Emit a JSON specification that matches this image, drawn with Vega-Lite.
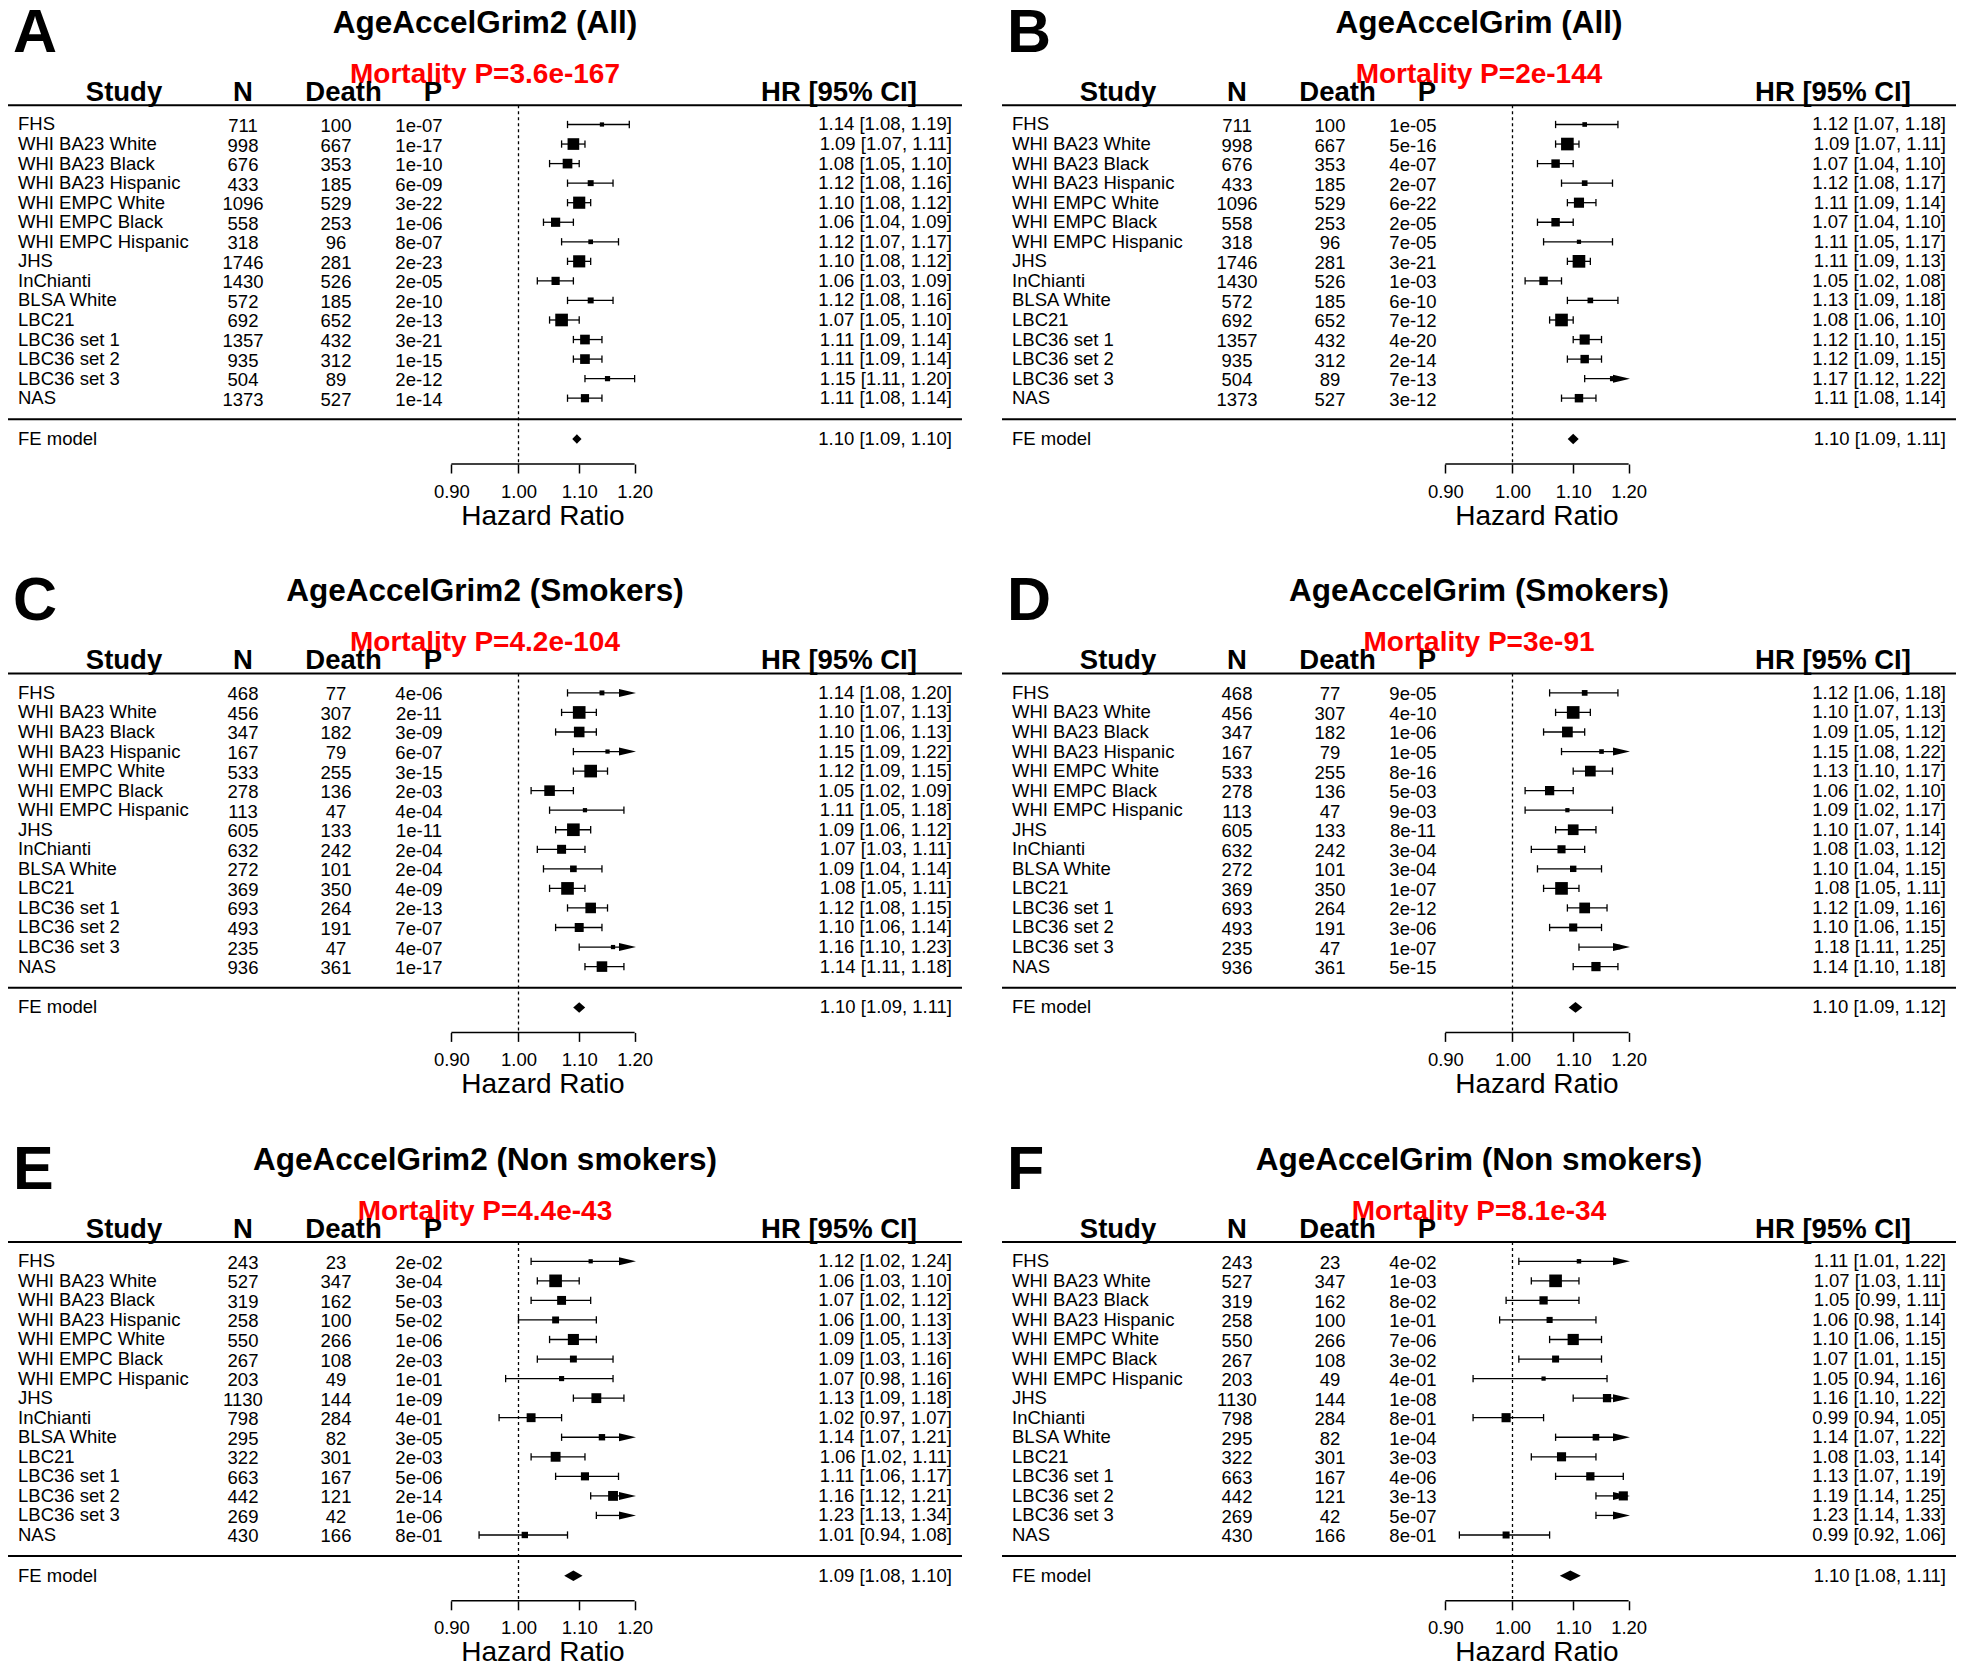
{
"$schema":"https://vega.github.io/schema/vega-lite/v6.json",
"padding":0,
"config":{"view":{"stroke":null},"font":"Liberation Sans","text":{"font":"Liberation Sans","color":"black"},"axis":{"labelFont":"Liberation Sans","labelColor":"black","tickColor":"black"}},
"data":{"values":[
{"panel":"A","kind":"p","letter":"A","title":"AgeAccelGrim2 (All)","mort":"Mortality P=3.6e-167"},
{"panel":"B","kind":"p","letter":"B","title":"AgeAccelGrim (All)","mort":"Mortality P=2e-144"},
{"panel":"C","kind":"p","letter":"C","title":"AgeAccelGrim2 (Smokers)","mort":"Mortality P=4.2e-104"},
{"panel":"D","kind":"p","letter":"D","title":"AgeAccelGrim (Smokers)","mort":"Mortality P=3e-91"},
{"panel":"E","kind":"p","letter":"E","title":"AgeAccelGrim2 (Non smokers)","mort":"Mortality P=4.4e-43"},
{"panel":"F","kind":"p","letter":"F","title":"AgeAccelGrim (Non smokers)","mort":"Mortality P=8.1e-34"},
{"panel":"A","kind":"fe","study":"FE model","hr":1.096,"lo":1.0905,"hi":1.1045,"txt":"1.10 [1.09, 1.10]"},
{"panel":"B","kind":"fe","study":"FE model","hr":1.1,"lo":1.091,"hi":1.108,"txt":"1.10 [1.09, 1.11]"},
{"panel":"C","kind":"fe","study":"FE model","hr":1.1,"lo":1.09,"hi":1.109,"txt":"1.10 [1.09, 1.11]"},
{"panel":"D","kind":"fe","study":"FE model","hr":1.104,"lo":1.092,"hi":1.116,"txt":"1.10 [1.09, 1.12]"},
{"panel":"E","kind":"fe","study":"FE model","hr":1.09,"lo":1.076,"hi":1.104,"txt":"1.09 [1.08, 1.10]"},
{"panel":"F","kind":"fe","study":"FE model","hr":1.095,"lo":1.079,"hi":1.111,"txt":"1.10 [1.08, 1.11]"},
{"panel":"A","kind":"s","r":1,"study":"FHS","n":"711","d":"100","p":"1e-07","hr":1.14,"lo":1.08,"hi":1.19,"txt":"1.14 [1.08, 1.19]","w":9.1},
{"panel":"A","kind":"s","r":2,"study":"WHI BA23 White","n":"998","d":"667","p":"1e-17","hr":1.09,"lo":1.07,"hi":1.11,"txt":"1.09 [1.07, 1.11]","w":24},
{"panel":"A","kind":"s","r":3,"study":"WHI BA23 Black","n":"676","d":"353","p":"1e-10","hr":1.08,"lo":1.05,"hi":1.10,"txt":"1.08 [1.05, 1.10]","w":20},
{"panel":"A","kind":"s","r":4,"study":"WHI BA23 Hispanic","n":"433","d":"185","p":"6e-09","hr":1.12,"lo":1.08,"hi":1.16,"txt":"1.12 [1.08, 1.16]","w":12.5},
{"panel":"A","kind":"s","r":5,"study":"WHI EMPC White","n":"1096","d":"529","p":"3e-22","hr":1.10,"lo":1.08,"hi":1.12,"txt":"1.10 [1.08, 1.12]","w":25},
{"panel":"A","kind":"s","r":6,"study":"WHI EMPC Black","n":"558","d":"253","p":"1e-06","hr":1.06,"lo":1.04,"hi":1.09,"txt":"1.06 [1.04, 1.09]","w":19},
{"panel":"A","kind":"s","r":7,"study":"WHI EMPC Hispanic","n":"318","d":"96","p":"8e-07","hr":1.12,"lo":1.07,"hi":1.17,"txt":"1.12 [1.07, 1.17]","w":10},
{"panel":"A","kind":"s","r":8,"study":"JHS","n":"1746","d":"281","p":"2e-23","hr":1.10,"lo":1.08,"hi":1.12,"txt":"1.10 [1.08, 1.12]","w":25},
{"panel":"A","kind":"s","r":9,"study":"InChianti","n":"1430","d":"526","p":"2e-05","hr":1.06,"lo":1.03,"hi":1.09,"txt":"1.06 [1.03, 1.09]","w":17},
{"panel":"A","kind":"s","r":10,"study":"BLSA White","n":"572","d":"185","p":"2e-10","hr":1.12,"lo":1.08,"hi":1.16,"txt":"1.12 [1.08, 1.16]","w":12.5},
{"panel":"A","kind":"s","r":11,"study":"LBC21","n":"692","d":"652","p":"2e-13","hr":1.07,"lo":1.05,"hi":1.10,"txt":"1.07 [1.05, 1.10]","w":26},
{"panel":"A","kind":"s","r":12,"study":"LBC36 set 1","n":"1357","d":"432","p":"3e-21","hr":1.11,"lo":1.09,"hi":1.14,"txt":"1.11 [1.09, 1.14]","w":20},
{"panel":"A","kind":"s","r":13,"study":"LBC36 set 2","n":"935","d":"312","p":"1e-15","hr":1.11,"lo":1.09,"hi":1.14,"txt":"1.11 [1.09, 1.14]","w":20},
{"panel":"A","kind":"s","r":14,"study":"LBC36 set 3","n":"504","d":"89","p":"2e-12","hr":1.15,"lo":1.11,"hi":1.20,"txt":"1.15 [1.11, 1.20]","w":11},
{"panel":"A","kind":"s","r":15,"study":"NAS","n":"1373","d":"527","p":"1e-14","hr":1.11,"lo":1.08,"hi":1.14,"txt":"1.11 [1.08, 1.14]","w":17},
{"panel":"B","kind":"s","r":1,"study":"FHS","n":"711","d":"100","p":"1e-05","hr":1.12,"lo":1.07,"hi":1.18,"txt":"1.12 [1.07, 1.18]","w":9.1},
{"panel":"B","kind":"s","r":2,"study":"WHI BA23 White","n":"998","d":"667","p":"5e-16","hr":1.09,"lo":1.07,"hi":1.11,"txt":"1.09 [1.07, 1.11]","w":25},
{"panel":"B","kind":"s","r":3,"study":"WHI BA23 Black","n":"676","d":"353","p":"4e-07","hr":1.07,"lo":1.04,"hi":1.10,"txt":"1.07 [1.04, 1.10]","w":16.7},
{"panel":"B","kind":"s","r":4,"study":"WHI BA23 Hispanic","n":"433","d":"185","p":"2e-07","hr":1.12,"lo":1.08,"hi":1.17,"txt":"1.12 [1.08, 1.17]","w":11.1},
{"panel":"B","kind":"s","r":5,"study":"WHI EMPC White","n":"1096","d":"529","p":"6e-22","hr":1.11,"lo":1.09,"hi":1.14,"txt":"1.11 [1.09, 1.14]","w":20},
{"panel":"B","kind":"s","r":6,"study":"WHI EMPC Black","n":"558","d":"253","p":"2e-05","hr":1.07,"lo":1.04,"hi":1.10,"txt":"1.07 [1.04, 1.10]","w":16.7},
{"panel":"B","kind":"s","r":7,"study":"WHI EMPC Hispanic","n":"318","d":"96","p":"7e-05","hr":1.11,"lo":1.05,"hi":1.17,"txt":"1.11 [1.05, 1.17]","w":8.3},
{"panel":"B","kind":"s","r":8,"study":"JHS","n":"1746","d":"281","p":"3e-21","hr":1.11,"lo":1.09,"hi":1.13,"txt":"1.11 [1.09, 1.13]","w":25},
{"panel":"B","kind":"s","r":9,"study":"InChianti","n":"1430","d":"526","p":"1e-03","hr":1.05,"lo":1.02,"hi":1.08,"txt":"1.05 [1.02, 1.08]","w":16.7},
{"panel":"B","kind":"s","r":10,"study":"BLSA White","n":"572","d":"185","p":"6e-10","hr":1.13,"lo":1.09,"hi":1.18,"txt":"1.13 [1.09, 1.18]","w":11.1},
{"panel":"B","kind":"s","r":11,"study":"LBC21","n":"692","d":"652","p":"7e-12","hr":1.08,"lo":1.06,"hi":1.10,"txt":"1.08 [1.06, 1.10]","w":25},
{"panel":"B","kind":"s","r":12,"study":"LBC36 set 1","n":"1357","d":"432","p":"4e-20","hr":1.12,"lo":1.10,"hi":1.15,"txt":"1.12 [1.10, 1.15]","w":20},
{"panel":"B","kind":"s","r":13,"study":"LBC36 set 2","n":"935","d":"312","p":"2e-14","hr":1.12,"lo":1.09,"hi":1.15,"txt":"1.12 [1.09, 1.15]","w":16.7},
{"panel":"B","kind":"s","r":14,"study":"LBC36 set 3","n":"504","d":"89","p":"7e-13","hr":1.17,"lo":1.12,"hi":1.22,"txt":"1.17 [1.12, 1.22]","w":10},
{"panel":"B","kind":"s","r":15,"study":"NAS","n":"1373","d":"527","p":"3e-12","hr":1.11,"lo":1.08,"hi":1.14,"txt":"1.11 [1.08, 1.14]","w":16.7},
{"panel":"C","kind":"s","r":1,"study":"FHS","n":"468","d":"77","p":"4e-06","hr":1.14,"lo":1.08,"hi":1.203,"txt":"1.14 [1.08, 1.20]","w":8.3},
{"panel":"C","kind":"s","r":2,"study":"WHI BA23 White","n":"456","d":"307","p":"2e-11","hr":1.10,"lo":1.07,"hi":1.13,"txt":"1.10 [1.07, 1.13]","w":16.7},
{"panel":"C","kind":"s","r":3,"study":"WHI BA23 Black","n":"347","d":"182","p":"3e-09","hr":1.10,"lo":1.06,"hi":1.13,"txt":"1.10 [1.06, 1.13]","w":14.3},
{"panel":"C","kind":"s","r":4,"study":"WHI BA23 Hispanic","n":"167","d":"79","p":"6e-07","hr":1.15,"lo":1.09,"hi":1.22,"txt":"1.15 [1.09, 1.22]","w":7.7},
{"panel":"C","kind":"s","r":5,"study":"WHI EMPC White","n":"533","d":"255","p":"3e-15","hr":1.12,"lo":1.09,"hi":1.15,"txt":"1.12 [1.09, 1.15]","w":16.7},
{"panel":"C","kind":"s","r":6,"study":"WHI EMPC Black","n":"278","d":"136","p":"2e-03","hr":1.05,"lo":1.02,"hi":1.09,"txt":"1.05 [1.02, 1.09]","w":14.3},
{"panel":"C","kind":"s","r":7,"study":"WHI EMPC Hispanic","n":"113","d":"47","p":"4e-04","hr":1.11,"lo":1.05,"hi":1.18,"txt":"1.11 [1.05, 1.18]","w":7.7},
{"panel":"C","kind":"s","r":8,"study":"JHS","n":"605","d":"133","p":"1e-11","hr":1.09,"lo":1.06,"hi":1.12,"txt":"1.09 [1.06, 1.12]","w":16.7},
{"panel":"C","kind":"s","r":9,"study":"InChianti","n":"632","d":"242","p":"2e-04","hr":1.07,"lo":1.03,"hi":1.11,"txt":"1.07 [1.03, 1.11]","w":12.5},
{"panel":"C","kind":"s","r":10,"study":"BLSA White","n":"272","d":"101","p":"2e-04","hr":1.09,"lo":1.04,"hi":1.14,"txt":"1.09 [1.04, 1.14]","w":10},
{"panel":"C","kind":"s","r":11,"study":"LBC21","n":"369","d":"350","p":"4e-09","hr":1.08,"lo":1.05,"hi":1.11,"txt":"1.08 [1.05, 1.11]","w":16.7},
{"panel":"C","kind":"s","r":12,"study":"LBC36 set 1","n":"693","d":"264","p":"2e-13","hr":1.12,"lo":1.08,"hi":1.15,"txt":"1.12 [1.08, 1.15]","w":14.3},
{"panel":"C","kind":"s","r":13,"study":"LBC36 set 2","n":"493","d":"191","p":"7e-07","hr":1.10,"lo":1.06,"hi":1.14,"txt":"1.10 [1.06, 1.14]","w":12.5},
{"panel":"C","kind":"s","r":14,"study":"LBC36 set 3","n":"235","d":"47","p":"4e-07","hr":1.16,"lo":1.10,"hi":1.23,"txt":"1.16 [1.10, 1.23]","w":7.7},
{"panel":"C","kind":"s","r":15,"study":"NAS","n":"936","d":"361","p":"1e-17","hr":1.14,"lo":1.11,"hi":1.18,"txt":"1.14 [1.11, 1.18]","w":14.3},
{"panel":"D","kind":"s","r":1,"study":"FHS","n":"468","d":"77","p":"9e-05","hr":1.12,"lo":1.06,"hi":1.18,"txt":"1.12 [1.06, 1.18]","w":8.3},
{"panel":"D","kind":"s","r":2,"study":"WHI BA23 White","n":"456","d":"307","p":"4e-10","hr":1.10,"lo":1.07,"hi":1.13,"txt":"1.10 [1.07, 1.13]","w":16.7},
{"panel":"D","kind":"s","r":3,"study":"WHI BA23 Black","n":"347","d":"182","p":"1e-06","hr":1.09,"lo":1.05,"hi":1.12,"txt":"1.09 [1.05, 1.12]","w":14.3},
{"panel":"D","kind":"s","r":4,"study":"WHI BA23 Hispanic","n":"167","d":"79","p":"1e-05","hr":1.15,"lo":1.08,"hi":1.22,"txt":"1.15 [1.08, 1.22]","w":7.1},
{"panel":"D","kind":"s","r":5,"study":"WHI EMPC White","n":"533","d":"255","p":"8e-16","hr":1.13,"lo":1.10,"hi":1.17,"txt":"1.13 [1.10, 1.17]","w":14.3},
{"panel":"D","kind":"s","r":6,"study":"WHI EMPC Black","n":"278","d":"136","p":"5e-03","hr":1.06,"lo":1.02,"hi":1.10,"txt":"1.06 [1.02, 1.10]","w":12.5},
{"panel":"D","kind":"s","r":7,"study":"WHI EMPC Hispanic","n":"113","d":"47","p":"9e-03","hr":1.09,"lo":1.02,"hi":1.17,"txt":"1.09 [1.02, 1.17]","w":6.7},
{"panel":"D","kind":"s","r":8,"study":"JHS","n":"605","d":"133","p":"8e-11","hr":1.10,"lo":1.07,"hi":1.14,"txt":"1.10 [1.07, 1.14]","w":14.3},
{"panel":"D","kind":"s","r":9,"study":"InChianti","n":"632","d":"242","p":"3e-04","hr":1.08,"lo":1.03,"hi":1.12,"txt":"1.08 [1.03, 1.12]","w":11.1},
{"panel":"D","kind":"s","r":10,"study":"BLSA White","n":"272","d":"101","p":"3e-04","hr":1.10,"lo":1.04,"hi":1.15,"txt":"1.10 [1.04, 1.15]","w":9.1},
{"panel":"D","kind":"s","r":11,"study":"LBC21","n":"369","d":"350","p":"1e-07","hr":1.08,"lo":1.05,"hi":1.11,"txt":"1.08 [1.05, 1.11]","w":16.7},
{"panel":"D","kind":"s","r":12,"study":"LBC36 set 1","n":"693","d":"264","p":"2e-12","hr":1.12,"lo":1.09,"hi":1.16,"txt":"1.12 [1.09, 1.16]","w":14.3},
{"panel":"D","kind":"s","r":13,"study":"LBC36 set 2","n":"493","d":"191","p":"3e-06","hr":1.10,"lo":1.06,"hi":1.15,"txt":"1.10 [1.06, 1.15]","w":11.1},
{"panel":"D","kind":"s","r":14,"study":"LBC36 set 3","n":"235","d":"47","p":"1e-07","hr":1.18,"lo":1.11,"hi":1.25,"txt":"1.18 [1.11, 1.25]","w":7.1},
{"panel":"D","kind":"s","r":15,"study":"NAS","n":"936","d":"361","p":"5e-15","hr":1.14,"lo":1.10,"hi":1.18,"txt":"1.14 [1.10, 1.18]","w":12.5},
{"panel":"E","kind":"s","r":1,"study":"FHS","n":"243","d":"23","p":"2e-02","hr":1.12,"lo":1.02,"hi":1.24,"txt":"1.12 [1.02, 1.24]","w":4.55},
{"panel":"E","kind":"s","r":2,"study":"WHI BA23 White","n":"527","d":"347","p":"3e-04","hr":1.06,"lo":1.03,"hi":1.10,"txt":"1.06 [1.03, 1.10]","w":14.3},
{"panel":"E","kind":"s","r":3,"study":"WHI BA23 Black","n":"319","d":"162","p":"5e-03","hr":1.07,"lo":1.02,"hi":1.12,"txt":"1.07 [1.02, 1.12]","w":10},
{"panel":"E","kind":"s","r":4,"study":"WHI BA23 Hispanic","n":"258","d":"100","p":"5e-02","hr":1.06,"lo":1.00,"hi":1.13,"txt":"1.06 [1.00, 1.13]","w":7.7},
{"panel":"E","kind":"s","r":5,"study":"WHI EMPC White","n":"550","d":"266","p":"1e-06","hr":1.09,"lo":1.05,"hi":1.13,"txt":"1.09 [1.05, 1.13]","w":12.5},
{"panel":"E","kind":"s","r":6,"study":"WHI EMPC Black","n":"267","d":"108","p":"2e-03","hr":1.09,"lo":1.03,"hi":1.16,"txt":"1.09 [1.03, 1.16]","w":7.7},
{"panel":"E","kind":"s","r":7,"study":"WHI EMPC Hispanic","n":"203","d":"49","p":"1e-01","hr":1.07,"lo":0.98,"hi":1.16,"txt":"1.07 [0.98, 1.16]","w":5.6},
{"panel":"E","kind":"s","r":8,"study":"JHS","n":"1130","d":"144","p":"1e-09","hr":1.13,"lo":1.09,"hi":1.18,"txt":"1.13 [1.09, 1.18]","w":11.1},
{"panel":"E","kind":"s","r":9,"study":"InChianti","n":"798","d":"284","p":"4e-01","hr":1.02,"lo":0.97,"hi":1.07,"txt":"1.02 [0.97, 1.07]","w":10},
{"panel":"E","kind":"s","r":10,"study":"BLSA White","n":"295","d":"82","p":"3e-05","hr":1.14,"lo":1.07,"hi":1.21,"txt":"1.14 [1.07, 1.21]","w":7.1},
{"panel":"E","kind":"s","r":11,"study":"LBC21","n":"322","d":"301","p":"2e-03","hr":1.06,"lo":1.02,"hi":1.11,"txt":"1.06 [1.02, 1.11]","w":11.1},
{"panel":"E","kind":"s","r":12,"study":"LBC36 set 1","n":"663","d":"167","p":"5e-06","hr":1.11,"lo":1.06,"hi":1.17,"txt":"1.11 [1.06, 1.17]","w":9.1},
{"panel":"E","kind":"s","r":13,"study":"LBC36 set 2","n":"442","d":"121","p":"2e-14","hr":1.16,"lo":1.12,"hi":1.21,"txt":"1.16 [1.12, 1.21]","w":11.1},
{"panel":"E","kind":"s","r":14,"study":"LBC36 set 3","n":"269","d":"42","p":"1e-06","hr":1.23,"lo":1.13,"hi":1.34,"txt":"1.23 [1.13, 1.34]","w":4.8},
{"panel":"E","kind":"s","r":15,"study":"NAS","n":"430","d":"166","p":"8e-01","hr":1.01,"lo":0.94,"hi":1.08,"txt":"1.01 [0.94, 1.08]","w":7.1},
{"panel":"F","kind":"s","r":1,"study":"FHS","n":"243","d":"23","p":"4e-02","hr":1.11,"lo":1.01,"hi":1.22,"txt":"1.11 [1.01, 1.22]","w":4.76},
{"panel":"F","kind":"s","r":2,"study":"WHI BA23 White","n":"527","d":"347","p":"1e-03","hr":1.07,"lo":1.03,"hi":1.11,"txt":"1.07 [1.03, 1.11]","w":12.5},
{"panel":"F","kind":"s","r":3,"study":"WHI BA23 Black","n":"319","d":"162","p":"8e-02","hr":1.05,"lo":0.99,"hi":1.11,"txt":"1.05 [0.99, 1.11]","w":8.3},
{"panel":"F","kind":"s","r":4,"study":"WHI BA23 Hispanic","n":"258","d":"100","p":"1e-01","hr":1.06,"lo":0.98,"hi":1.14,"txt":"1.06 [0.98, 1.14]","w":6.25},
{"panel":"F","kind":"s","r":5,"study":"WHI EMPC White","n":"550","d":"266","p":"7e-06","hr":1.10,"lo":1.06,"hi":1.15,"txt":"1.10 [1.06, 1.15]","w":11.1},
{"panel":"F","kind":"s","r":6,"study":"WHI EMPC Black","n":"267","d":"108","p":"3e-02","hr":1.07,"lo":1.01,"hi":1.15,"txt":"1.07 [1.01, 1.15]","w":7.1},
{"panel":"F","kind":"s","r":7,"study":"WHI EMPC Hispanic","n":"203","d":"49","p":"4e-01","hr":1.05,"lo":0.94,"hi":1.16,"txt":"1.05 [0.94, 1.16]","w":4.55},
{"panel":"F","kind":"s","r":8,"study":"JHS","n":"1130","d":"144","p":"1e-08","hr":1.16,"lo":1.10,"hi":1.22,"txt":"1.16 [1.10, 1.22]","w":8.3},
{"panel":"F","kind":"s","r":9,"study":"InChianti","n":"798","d":"284","p":"8e-01","hr":0.99,"lo":0.94,"hi":1.05,"txt":"0.99 [0.94, 1.05]","w":9.1},
{"panel":"F","kind":"s","r":10,"study":"BLSA White","n":"295","d":"82","p":"1e-04","hr":1.14,"lo":1.07,"hi":1.22,"txt":"1.14 [1.07, 1.22]","w":6.7},
{"panel":"F","kind":"s","r":11,"study":"LBC21","n":"322","d":"301","p":"3e-03","hr":1.08,"lo":1.03,"hi":1.14,"txt":"1.08 [1.03, 1.14]","w":9.1},
{"panel":"F","kind":"s","r":12,"study":"LBC36 set 1","n":"663","d":"167","p":"4e-06","hr":1.13,"lo":1.07,"hi":1.19,"txt":"1.13 [1.07, 1.19]","w":8.3},
{"panel":"F","kind":"s","r":13,"study":"LBC36 set 2","n":"442","d":"121","p":"3e-13","hr":1.19,"lo":1.14,"hi":1.25,"txt":"1.19 [1.14, 1.25]","w":9.1},
{"panel":"F","kind":"s","r":14,"study":"LBC36 set 3","n":"269","d":"42","p":"5e-07","hr":1.23,"lo":1.14,"hi":1.33,"txt":"1.23 [1.14, 1.33]","w":5.3},
{"panel":"F","kind":"s","r":15,"study":"NAS","n":"430","d":"166","p":"8e-01","hr":0.99,"lo":0.92,"hi":1.06,"txt":"0.99 [0.92, 1.06]","w":7.1}
]},
"transform":[{"lookup":"panel","from":{"data":{"values":[
 {"panel":"A","clock":"AgeAccelGrim2","subset":"All"},
 {"panel":"B","clock":"AgeAccelGrim","subset":"All"},
 {"panel":"C","clock":"AgeAccelGrim2","subset":"Smokers"},
 {"panel":"D","clock":"AgeAccelGrim","subset":"Smokers"},
 {"panel":"E","clock":"AgeAccelGrim2","subset":"Non smokers"},
 {"panel":"F","clock":"AgeAccelGrim","subset":"Non smokers"}]},"key":"panel","fields":["clock","subset"]}}],
"facet":{
 "row":{"field":"subset","type":"nominal","sort":["All","Smokers","Non smokers"],"header":null},
 "column":{"field":"clock","type":"nominal","sort":["AgeAccelGrim2","AgeAccelGrim"],"header":null}},
"spacing":{"row":32.4,"column":23},
"resolve":{"scale":{"size":"independent","x":"independent"},"axis":{"x":"independent"}},
"spec":{
"width":971,"height":536,
"layer":[
{"transform":[{"filter":"datum.kind=='s' && datum.hr<=1.2"}],"mark":{"type":"point","shape":"square","filled":true,"color":"black","opacity":1,"strokeWidth":0},
 "encoding":{"x":{"field":"hr","type":"quantitative","scale":{"type":"log","domain":[0.44309,2.03479],"nice":false},"axis":{"values":[0.9,1,1.1,1.2],"format":".2f","domain":false,"grid":false,"ticks":true,"tickSize":9,"tickWidth":1.5,"labelFontSize":18.5,"labelPadding":9,"labelFlush":false,"labelOverlap":false,"title":null,"offset":-72}},
  "y":{"field":"r","type":"quantitative","scale":{"domain":[-5.368,22.049],"nice":false,"zero":false,"reverse":true},"axis":null},
  "size":{"field":"w","type":"quantitative","scale":{"type":"pow","exponent":2,"zero":false,"range":[18,160]},"legend":null}}},
{"transform":[{"filter":"datum.kind=='p'"}],"mark":{"type":"rule","strokeWidth":2,"color":"black"},
 "encoding":{"x":{"datum":0.4487,"type":"quantitative"},"x2":{"datum":2.00621},
 "y":{"datum":0.013,"type":"quantitative"}}},
{"transform":[{"filter":"datum.kind=='p'"}],"mark":{"type":"rule","strokeWidth":2,"color":"black"},
 "encoding":{"x":{"datum":0.4487,"type":"quantitative"},"x2":{"datum":2.00621},"y":{"datum":16.079,"type":"quantitative"}}},
{"transform":[{"filter":"datum.kind=='p'"}],"mark":{"type":"rule","strokeWidth":1.3,"color":"black","strokeDash":[3,3]},
 "encoding":{"x":{"datum":1,"type":"quantitative"},"y":{"datum":0.013,"type":"quantitative"},"y2":{"datum":18.366}}},
{"transform":[{"filter":"datum.kind=='p'"}],"mark":{"type":"rule","strokeWidth":1.5,"color":"black"},
 "encoding":{"x":{"datum":0.9,"type":"quantitative"},"x2":{"datum":1.2},"y":{"datum":18.366,"type":"quantitative"}}},
{"transform":[{"filter":"datum.kind=='s' && datum.hi<=1.2"}],"mark":{"type":"rule","strokeWidth":1.3,"color":"black"},
 "encoding":{"x":{"field":"lo","type":"quantitative"},"x2":{"field":"hi"},"y":{"field":"r","type":"quantitative"}}},
{"transform":[{"filter":"datum.kind=='s' && datum.hi>1.2"}],"mark":{"type":"rule","strokeWidth":1.3,"color":"black"},
 "encoding":{"x":{"field":"lo","type":"quantitative"},"x2":{"datum":1.18663},"y":{"field":"r","type":"quantitative"}}},
{"transform":[{"filter":"datum.kind=='s'"}],"mark":{"type":"tick","orient":"vertical","size":7.3,"thickness":1.3,"color":"black","opacity":1},
 "encoding":{"x":{"field":"lo","type":"quantitative"},"y":{"field":"r","type":"quantitative"}}},
{"transform":[{"filter":"datum.kind=='s' && datum.hi<=1.2"}],"mark":{"type":"tick","orient":"vertical","size":7.3,"thickness":1.3,"color":"black","opacity":1},
 "encoding":{"x":{"field":"hi","type":"quantitative"},"y":{"field":"r","type":"quantitative"}}},
{"transform":[{"filter":"datum.kind=='s' && datum.hi>1.2"}],"mark":{"type":"point","shape":"M-1,-0.47L1,0L-1,0.47Z","size":289,"filled":true,"color":"black","opacity":1,"strokeWidth":0},
 "encoding":{"x":{"datum":1.18663,"type":"quantitative"},"y":{"field":"r","type":"quantitative"}}},
{"transform":[{"filter":"datum.kind=='fe'"}],"mark":{"type":"point","size":441,"filled":true,"color":"black","opacity":1,"strokeWidth":0},
 "encoding":{"x":{"field":"hr","type":"quantitative"},"y":{"datum":17.087,"type":"quantitative"},
  "shape":{"field":"panel","type":"nominal","legend":null,"scale":{"domain":["A","B","C","D","E","F"],"range":["M-0.443,0L0,-0.45L0.443,0L0,0.45Z","M-0.524,0L0,-0.5L0.524,0L0,0.5Z","M-0.571,0L0,-0.5L0.571,0L0,0.5Z","M-0.652,0L0,-0.52L0.652,0L0,0.52Z","M-0.876,0L0,-0.5L0.876,0L0,0.5Z","M-1,0L0,-0.5L1,0L0,0.5Z"]}}}},
{"transform":[{"filter":"datum.kind=='p'"}],"mark":{"type":"text","fontSize":28,"fontWeight":"bold","color":"#FF0000","align":"center","baseline":"alphabetic"},
 "encoding":{"x":{"datum":0.94877,"type":"quantitative"},"y":{"datum":-1.123,"type":"quantitative"},"text":{"field":"mort"}}},
{"transform":[{"filter":"datum.kind=='p'"}],"mark":{"type":"text","fontSize":31.5,"fontWeight":"bold","align":"center","baseline":"alphabetic"},
 "encoding":{"x":{"datum":0.94877,"type":"quantitative"},"y":{"datum":-3.68,"type":"quantitative"},"text":{"field":"title"}}},
{"transform":[{"filter":"datum.kind=='p'"}],"mark":{"type":"text","fontSize":61,"fontWeight":"bold","align":"left","baseline":"alphabetic"},
 "encoding":{"x":{"datum":0.45224,"type":"quantitative"},"y":{"datum":-2.708,"type":"quantitative"},"text":{"field":"letter"}}},
{"transform":[{"filter":"datum.kind=='p'"}],"mark":{"type":"text","fontSize":27.5,"fontWeight":"bold","align":"center","baseline":"alphabetic","text":"Study"},
 "encoding":{"x":{"datum":0.53831,"type":"quantitative"},"y":{"datum":-0.217,"type":"quantitative"}}},
{"transform":[{"filter":"datum.kind=='p'"}],"mark":{"type":"text","fontSize":27.5,"fontWeight":"bold","align":"center","baseline":"alphabetic","text":"N"},
 "encoding":{"x":{"datum":0.6489,"type":"quantitative"},"y":{"datum":-0.217,"type":"quantitative"}}},
{"transform":[{"filter":"datum.kind=='p'"}],"mark":{"type":"text","fontSize":27.5,"fontWeight":"bold","align":"center","baseline":"alphabetic","text":"Death"},
 "encoding":{"x":{"datum":0.75978,"type":"quantitative"},"y":{"datum":-0.217,"type":"quantitative"}}},
{"transform":[{"filter":"datum.kind=='p'"}],"mark":{"type":"text","fontSize":27.5,"fontWeight":"bold","align":"center","baseline":"alphabetic","text":"P"},
 "encoding":{"x":{"datum":0.8744,"type":"quantitative"},"y":{"datum":-0.217,"type":"quantitative"}}},
{"transform":[{"filter":"datum.kind=='p'"}],"mark":{"type":"text","fontSize":27.5,"fontWeight":"bold","align":"center","baseline":"alphabetic","text":"HR [95% CI]"},
 "encoding":{"x":{"datum":1.65388,"type":"quantitative"},"y":{"datum":-0.217,"type":"quantitative"}}},
{"transform":[{"filter":"datum.kind=='s'"}],"mark":{"type":"text","fontSize":18.5,"align":"left","baseline":"middle"},
 "encoding":{"x":{"datum":0.4558,"type":"quantitative"},"y":{"field":"r","type":"quantitative"},"text":{"field":"study"}}},
{"transform":[{"filter":"datum.kind=='fe'"}],"mark":{"type":"text","fontSize":18.5,"align":"left","baseline":"middle"},
 "encoding":{"x":{"datum":0.4558,"type":"quantitative"},"y":{"datum":17.087,"type":"quantitative"},"text":{"field":"study"}}},
{"transform":[{"filter":"datum.kind=='s'"}],"mark":{"type":"text","fontSize":18.5,"align":"center","baseline":"middle","dy":1.5},
 "encoding":{"x":{"datum":0.6489,"type":"quantitative"},"y":{"field":"r","type":"quantitative"},"text":{"field":"n"}}},
{"transform":[{"filter":"datum.kind=='s'"}],"mark":{"type":"text","fontSize":18.5,"align":"center","baseline":"middle","dy":1.5},
 "encoding":{"x":{"datum":0.75089,"type":"quantitative"},"y":{"field":"r","type":"quantitative"},"text":{"field":"d"}}},
{"transform":[{"filter":"datum.kind=='s'"}],"mark":{"type":"text","fontSize":18.5,"align":"center","baseline":"middle","dy":1.5},
 "encoding":{"x":{"datum":0.85539,"type":"quantitative"},"y":{"field":"r","type":"quantitative"},"text":{"field":"p"}}},
{"transform":[{"filter":"datum.kind=='s'"}],"mark":{"type":"text","fontSize":18.5,"align":"right","baseline":"middle"},
 "encoding":{"x":{"datum":1.97497,"type":"quantitative"},"y":{"field":"r","type":"quantitative"},"text":{"field":"txt"}}},
{"transform":[{"filter":"datum.kind=='fe'"}],"mark":{"type":"text","fontSize":18.5,"align":"right","baseline":"middle"},
 "encoding":{"x":{"datum":1.97497,"type":"quantitative"},"y":{"datum":17.087,"type":"quantitative"},"text":{"field":"txt"}}},
{"transform":[{"filter":"datum.kind=='p'"}],"mark":{"type":"text","fontSize":28,"align":"center","baseline":"middle","text":"Hazard Ratio"},
 "encoding":{"x":{"datum":1.03921,"type":"quantitative"},"y":{"datum":21.06,"type":"quantitative"}}}
]}
}
